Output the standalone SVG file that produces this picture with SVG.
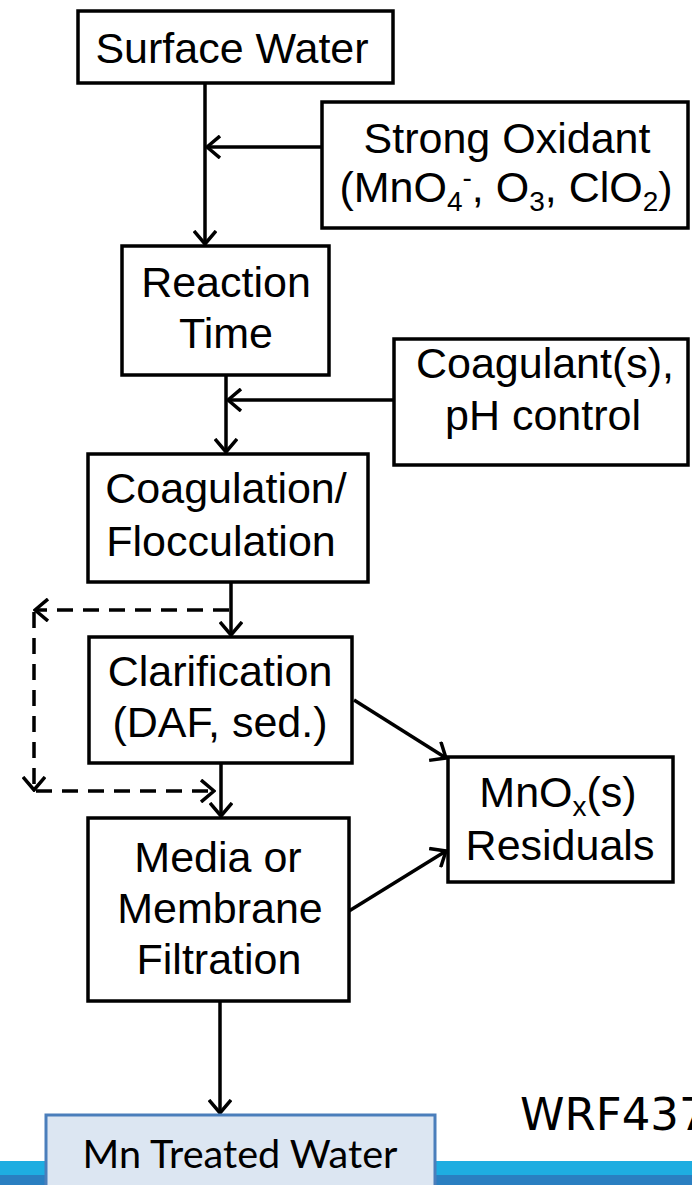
<svg xmlns="http://www.w3.org/2000/svg" width="692" height="1185" viewBox="0 0 692 1185">
<style>
.box{fill:#fff;stroke:#000;stroke-width:3.5}
.t{font-family:"Liberation Sans",Arial,sans-serif;font-size:43px;fill:#000;text-anchor:middle}
.ln{fill:none;stroke:#000;stroke-width:3.5}
.dash{fill:none;stroke:#000;stroke-width:3.5;stroke-dasharray:16 10}
</style>
<defs>
<marker id="ah" viewBox="0 0 16 24" refX="14" refY="12" markerWidth="16" markerHeight="24" markerUnits="userSpaceOnUse" orient="auto">
<path d="M1,1 L14,12 L1,23" fill="none" stroke="#000" stroke-width="3.5" stroke-dasharray="none"/>
</marker>
</defs>
<rect x="0" y="1161" width="692" height="14" fill="#1eade1"/>
<rect x="0" y="1175" width="692" height="10" fill="#2a7fc1"/>
<g id="connectors">
<line class="ln" x1="205" y1="83" x2="205" y2="244" marker-end="url(#ah)"/>
<line class="ln" x1="322" y1="147" x2="207" y2="147" marker-end="url(#ah)"/>
<line class="ln" x1="226" y1="375" x2="226" y2="452" marker-end="url(#ah)"/>
<line class="ln" x1="394" y1="400" x2="228" y2="400" marker-end="url(#ah)"/>
<line class="ln" x1="231" y1="582" x2="231" y2="635" marker-end="url(#ah)"/>
<line class="ln" x1="221" y1="763" x2="221" y2="816" marker-end="url(#ah)"/>
<line class="ln" x1="220" y1="1001" x2="220" y2="1113" marker-end="url(#ah)"/>
<line class="ln" x1="354" y1="700" x2="446" y2="758" marker-end="url(#ah)"/>
<line class="ln" x1="349" y1="911" x2="446" y2="851" marker-end="url(#ah)"/>
<line class="dash" x1="229" y1="610" x2="35" y2="610" marker-end="url(#ah)"/>
<line class="dash" x1="34" y1="612" x2="34" y2="790" marker-end="url(#ah)"/>
<line class="dash" x1="36" y1="791" x2="214" y2="791" marker-end="url(#ah)"/>
</g>
<g id="surface-water">
<rect class="box" x="78" y="11" width="315" height="72"/>
<text class="t" x="232" y="63">Surface Water</text>
</g>
<g id="strong-oxidant">
<rect class="box" x="322" y="102" width="366" height="126"/>
<text class="t" x="507" y="153">Strong Oxidant</text>
<text class="t" x="506" y="202">(MnO<tspan font-size="28" dy="9">4</tspan><tspan font-size="28" dy="-24">-</tspan><tspan dy="15">, O</tspan><tspan font-size="28" dy="9">3</tspan><tspan dy="-9">, ClO</tspan><tspan font-size="28" dy="9">2</tspan><tspan dy="-9">)</tspan></text>
</g>
<g id="reaction-time">
<rect class="box" x="122" y="246" width="207" height="129"/>
<text class="t" x="226" y="297">Reaction</text>
<text class="t" x="226" y="348">Time</text>
</g>
<g id="coagulant">
<rect class="box" x="394" y="339" width="294" height="126"/>
<text class="t" x="545" y="378">Coagulant(s),</text>
<text class="t" x="543" y="430">pH control</text>
</g>
<g id="coagulation">
<rect class="box" x="88" y="454" width="280" height="128"/>
<text class="t" x="226" y="503">Coagulation/</text>
<text class="t" x="221" y="556">Flocculation</text>
</g>
<g id="clarification">
<rect class="box" x="89" y="637" width="263" height="126"/>
<text class="t" x="220" y="686">Clarification</text>
<text class="t" x="220" y="737">(DAF, sed.)</text>
</g>
<g id="filtration">
<rect class="box" x="88" y="818" width="261" height="183"/>
<text class="t" x="218" y="872">Media or</text>
<text class="t" x="220" y="923">Membrane</text>
<text class="t" x="219" y="974">Filtration</text>
</g>
<g id="residuals">
<rect class="box" x="448" y="757" width="225" height="125"/>
<text class="t" x="558" y="807">MnO<tspan font-size="28" dy="9">x</tspan><tspan dy="-9">(s)</tspan></text>
<text class="t" x="560" y="860">Residuals</text>
</g>
<g id="treated-water">
<rect x="46" y="1115" width="389" height="80" fill="#dce6f2" stroke="#4a7ebb" stroke-width="3"/>
<text x="240" y="1168" font-family="Lato,'Open Sans',sans-serif" font-size="38" fill="#000" text-anchor="middle" textLength="315" lengthAdjust="spacingAndGlyphs">Mn Treated Water</text>
</g>
<text x="520" y="1130" font-family="'DejaVu Sans',sans-serif" font-size="45" fill="#000">WRF437</text>
</svg>
